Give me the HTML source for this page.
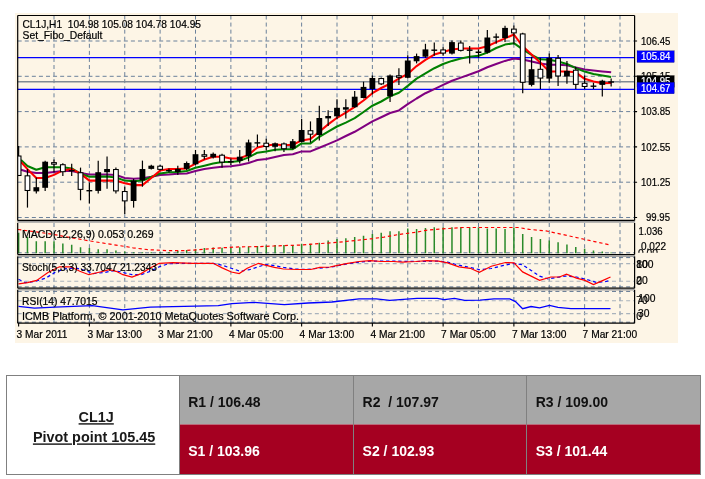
<!DOCTYPE html>
<html><head><meta charset="utf-8"><title>CL1J chart</title>
<style>html,body{margin:0;padding:0;background:#fff;}svg{display:block;will-change:transform;transform:translateZ(0)}</style></head>
<body>
<svg width="705" height="479" viewBox="0 0 705 479">
<rect x="0" y="0" width="705" height="479" fill="#ffffff"/>
<rect x="15" y="13" width="663" height="330" fill="#fdf5e6"/>
<defs><clipPath id="cm"><rect x="18" y="16" width="617" height="204"/></clipPath></defs>
<path d="M54.00 15.5 V220.4 M54.00 223 V254.6 M54.00 256.5 V288.2 M54.00 290 V323.2 M89.38 15.5 V220.4 M89.38 223 V254.6 M89.38 256.5 V288.2 M89.38 290 V323.2 M124.75 15.5 V220.4 M124.75 223 V254.6 M124.75 256.5 V288.2 M124.75 290 V323.2 M160.12 15.5 V220.4 M160.12 223 V254.6 M160.12 256.5 V288.2 M160.12 290 V323.2 M195.50 15.5 V220.4 M195.50 223 V254.6 M195.50 256.5 V288.2 M195.50 290 V323.2 M230.88 15.5 V220.4 M230.88 223 V254.6 M230.88 256.5 V288.2 M230.88 290 V323.2 M266.25 15.5 V220.4 M266.25 223 V254.6 M266.25 256.5 V288.2 M266.25 290 V323.2 M301.62 15.5 V220.4 M301.62 223 V254.6 M301.62 256.5 V288.2 M301.62 290 V323.2 M337.00 15.5 V220.4 M337.00 223 V254.6 M337.00 256.5 V288.2 M337.00 290 V323.2 M372.38 15.5 V220.4 M372.38 223 V254.6 M372.38 256.5 V288.2 M372.38 290 V323.2 M407.75 15.5 V220.4 M407.75 223 V254.6 M407.75 256.5 V288.2 M407.75 290 V323.2 M443.12 15.5 V220.4 M443.12 223 V254.6 M443.12 256.5 V288.2 M443.12 290 V323.2 M478.50 15.5 V220.4 M478.50 223 V254.6 M478.50 256.5 V288.2 M478.50 290 V323.2 M513.88 15.5 V220.4 M513.88 223 V254.6 M513.88 256.5 V288.2 M513.88 290 V323.2 M549.25 15.5 V220.4 M549.25 223 V254.6 M549.25 256.5 V288.2 M549.25 290 V323.2 M584.62 15.5 V220.4 M584.62 223 V254.6 M584.62 256.5 V288.2 M584.62 290 V323.2 M620.00 15.5 V220.4 M620.00 223 V254.6 M620.00 256.5 V288.2 M620.00 290 V323.2 M17.7 41 H634.6 M17.7 76.3 H634.6 M17.7 111.6 H634.6 M17.7 146.9 H634.6 M17.7 182.2 H634.6 M17.7 217.5 H634.6" stroke="#6b819b" stroke-width="1" stroke-dasharray="4 3.075" fill="none"/>
<path d="M17.7 263.6 H634.6 M17.7 281.3 H634.6 M17.7 300.8 H634.6 M17.7 313.6 H634.6" stroke="#a9b2bc" stroke-width="1.1" stroke-dasharray="4 3.075" fill="none"/>
<path d="M17.7 252.8 H634.6 M17.7 257.6 H634.6 M17.7 286.9 H634.6 M17.7 291.4 H634.6 M17.7 322.2 H634.6" stroke="#5f7590" stroke-width="1" stroke-dasharray="4 3.075" fill="none"/>
<path d="M17.7 57.6 H634.6 M17.7 89.4 H634.6" stroke="#0000ff" stroke-width="1.15" fill="none"/>
<path d="M17.7 81.8 H634.6" stroke="#808a94" stroke-width="1.4" fill="none"/>
<g clip-path="url(#cm)">
<polyline points="21.00,169.8 27.47,171.7 36.31,173 45.16,173 54.00,172 62.84,171 71.69,171 80.53,173 89.38,174.5 98.22,174.5 107.06,174.5 115.91,174.9 124.75,178 133.59,178.7 142.44,178.3 151.28,176.8 160.12,175 168.97,174.5 177.81,173.8 186.66,173.4 195.50,171 204.34,168.9 213.19,167.8 222.03,166.8 230.88,166.3 239.72,165.1 248.56,163 257.41,160 266.25,159 275.09,157 283.94,155 292.78,154.3 301.62,151.4 310.47,151.4 319.31,147.7 328.16,144.1 337.00,140.4 345.84,136 354.69,131.8 363.53,126.6 372.38,121.4 381.22,117.2 390.06,113 398.91,110.4 407.75,104.2 416.59,98.5 425.44,93.2 434.28,89.1 443.12,84.9 451.97,80.7 460.81,77.6 469.66,74.5 478.50,71.3 487.34,67.2 496.19,64 505.03,60.9 513.88,58.4 522.72,59.5 531.56,61.5 540.41,63.4 549.25,64.7 558.09,64.7 566.94,65.3 575.78,67.6 584.62,69.5 593.47,70.4 602.31,71.4 611.16,72.3" fill="none" stroke="#800080" stroke-width="2.05" stroke-linejoin="round"/>
<polyline points="21.00,160 27.47,166 36.31,169.8 45.16,167.2 54.00,167.2 62.84,167.2 71.69,168.5 80.53,173.6 89.38,176.8 98.22,176.6 107.06,176.6 115.91,177.5 124.75,180.6 133.59,181.3 142.44,180.6 151.28,177 160.12,173.5 168.97,172.2 177.81,172 186.66,171 195.50,167.8 204.34,165.7 213.19,163.6 222.03,162 230.88,162 239.72,160.9 248.56,157.4 257.41,152.7 266.25,151.5 275.09,149.8 283.94,149.2 292.78,149.2 301.62,143.4 310.47,143.4 319.31,136.8 328.16,131.7 337.00,126.5 345.84,122.6 354.69,118.2 363.53,112 372.38,105.7 381.22,101.5 390.06,96.3 398.91,92.7 407.75,85.9 416.59,78.6 425.44,73.4 434.28,68.2 443.12,64 451.97,60.9 460.81,58.4 469.66,56.7 478.50,55.7 487.34,52.6 496.19,48 505.03,44.6 513.88,43.2 522.72,49.4 531.56,55 540.41,59.3 549.25,59.7 558.09,61.6 566.94,63.9 575.78,68.1 584.62,71.6 593.47,73.9 602.31,75.4 611.16,76.9" fill="none" stroke="#008000" stroke-width="2.05" stroke-linejoin="round"/>
<polyline points="21.00,162 27.47,169.1 36.31,178 45.16,178 54.00,174.9 62.84,170.4 71.69,169.1 80.53,173.6 89.38,180.6 98.22,180.6 107.06,180.6 115.91,180.6 124.75,183.2 133.59,185.1 142.44,185.1 151.28,178 160.12,170.6 168.97,169 177.81,169 186.66,168.4 195.50,163.6 204.34,159.5 213.19,156.7 222.03,156.7 230.88,158.4 239.72,158.4 248.56,154.7 257.41,147.5 266.25,145.5 275.09,144.5 283.94,145.3 292.78,144.8 301.62,140.4 310.47,139 319.31,131.7 328.16,124.4 337.00,117.8 345.84,112.7 354.69,106.8 363.53,100.5 372.38,93.2 381.22,88 390.06,83.8 398.91,78.6 407.75,73.9 416.59,66.1 425.44,59.9 434.28,54.6 443.12,52.1 451.97,49.4 460.81,48.4 469.66,48.4 478.50,48.4 487.34,46.3 496.19,42.1 505.03,38.4 513.88,34.5 522.72,46.3 531.56,54.5 540.41,62.8 549.25,71.4 558.09,71.6 566.94,71.4 575.78,72.3 584.62,78.8 593.47,81.5 602.31,83.3 611.16,83.1" fill="none" stroke="#ff0000" stroke-width="2.05" stroke-linejoin="round"/>
<path d="M18.62 146.0 V176.0" stroke="#000" stroke-width="1.2"/>
<rect x="15.72" y="155.5" width="5.80" height="20.50" fill="#000"/>
<rect x="16.82" y="156.55" width="3.60" height="18.40" fill="#fff"/>
<path d="M27.47 169.0 V207.6" stroke="#000" stroke-width="1.2"/>
<rect x="24.57" y="175.3" width="5.80" height="15.70" fill="#000"/>
<rect x="25.67" y="176.35" width="3.60" height="13.60" fill="#fff"/>
<path d="M36.31 177.4 V193.4" stroke="#000" stroke-width="1.2"/>
<rect x="33.41" y="187.2" width="5.80" height="4.20" fill="#000"/>
<path d="M45.16 160.7 V191.0" stroke="#000" stroke-width="1.2"/>
<rect x="42.26" y="161.7" width="5.80" height="26.10" fill="#000"/>
<path d="M54.00 159.6 V172.2" stroke="#000" stroke-width="1.2"/>
<rect x="51.10" y="162.1" width="5.80" height="2.60" fill="#000"/>
<rect x="52.20" y="163.15" width="3.60" height="0.50" fill="#fff"/>
<path d="M62.84 163.2 V175.9" stroke="#000" stroke-width="1.2"/>
<rect x="59.94" y="164.2" width="5.80" height="8.00" fill="#000"/>
<rect x="61.04" y="165.25" width="3.60" height="5.90" fill="#fff"/>
<path d="M71.69 163.8 V175.9" stroke="#000" stroke-width="1.2"/>
<rect x="68.79" y="170.0" width="5.80" height="1.30" fill="#000"/>
<path d="M80.53 167.6 V200.3" stroke="#000" stroke-width="1.2"/>
<rect x="77.63" y="172.2" width="5.80" height="17.70" fill="#000"/>
<rect x="78.73" y="173.25" width="3.60" height="15.60" fill="#fff"/>
<path d="M89.38 182.6 V203.5" stroke="#000" stroke-width="1.2"/>
<rect x="86.47" y="190.0" width="5.80" height="1.40" fill="#000"/>
<path d="M98.22 160.7 V193.4" stroke="#000" stroke-width="1.2"/>
<rect x="95.32" y="172.2" width="5.80" height="18.70" fill="#000"/>
<path d="M107.06 156.5 V188.8" stroke="#000" stroke-width="1.2"/>
<rect x="104.16" y="169.0" width="5.80" height="3.20" fill="#000"/>
<path d="M115.91 167.6 V193.4" stroke="#000" stroke-width="1.2"/>
<rect x="113.01" y="169.0" width="5.80" height="22.40" fill="#000"/>
<rect x="114.11" y="170.05" width="3.60" height="20.30" fill="#fff"/>
<path d="M124.75 186.8 V213.9" stroke="#000" stroke-width="1.2"/>
<rect x="121.85" y="191.0" width="5.80" height="10.40" fill="#000"/>
<rect x="122.95" y="192.05" width="3.60" height="8.30" fill="#fff"/>
<path d="M133.59 178.8 V207.6" stroke="#000" stroke-width="1.2"/>
<rect x="130.69" y="180.5" width="5.80" height="20.50" fill="#000"/>
<path d="M142.44 160.6 V186.7" stroke="#000" stroke-width="1.2"/>
<rect x="139.54" y="169.0" width="5.80" height="11.40" fill="#000"/>
<path d="M151.28 164.7 V169.5" stroke="#000" stroke-width="1.2"/>
<rect x="148.38" y="165.7" width="5.80" height="3.20" fill="#000"/>
<path d="M160.12 165.0 V170.5" stroke="#000" stroke-width="1.2"/>
<rect x="157.22" y="165.7" width="5.80" height="4.20" fill="#000"/>
<rect x="158.32" y="166.75" width="3.60" height="2.10" fill="#fff"/>
<path d="M168.97 168.4 V172.6" stroke="#000" stroke-width="1.2"/>
<rect x="166.07" y="170.0" width="5.80" height="1.30" fill="#000"/>
<path d="M177.81 165.7 V175.1" stroke="#000" stroke-width="1.2"/>
<rect x="174.91" y="168.9" width="5.80" height="3.10" fill="#000"/>
<path d="M186.66 161.5 V170.0" stroke="#000" stroke-width="1.2"/>
<rect x="183.76" y="163.0" width="5.80" height="5.90" fill="#000"/>
<path d="M195.50 150.0 V165.1" stroke="#000" stroke-width="1.2"/>
<rect x="192.60" y="154.2" width="5.80" height="10.10" fill="#000"/>
<path d="M204.34 150.0 V159.5" stroke="#000" stroke-width="1.2"/>
<rect x="201.44" y="154.2" width="5.80" height="2.60" fill="#000"/>
<rect x="202.54" y="155.25" width="3.60" height="0.50" fill="#fff"/>
<path d="M213.19 152.6 V158.4" stroke="#000" stroke-width="1.2"/>
<rect x="210.29" y="153.8" width="5.80" height="3.60" fill="#000"/>
<path d="M222.03 153.8 V167.8" stroke="#000" stroke-width="1.2"/>
<rect x="219.13" y="154.7" width="5.80" height="7.90" fill="#000"/>
<rect x="220.23" y="155.75" width="3.60" height="5.80" fill="#fff"/>
<path d="M230.88 158.4 V165.1" stroke="#000" stroke-width="1.2"/>
<rect x="227.97" y="161.0" width="5.80" height="1.40" fill="#000"/>
<path d="M239.72 150.0 V163.6" stroke="#000" stroke-width="1.2"/>
<rect x="236.82" y="156.7" width="5.80" height="4.20" fill="#000"/>
<path d="M248.56 139.6 V161.5" stroke="#000" stroke-width="1.2"/>
<rect x="245.66" y="142.4" width="5.80" height="13.90" fill="#000"/>
<path d="M257.41 134.5 V147.0" stroke="#000" stroke-width="1.2"/>
<rect x="254.51" y="142.2" width="5.80" height="1.40" fill="#000"/>
<path d="M266.25 138.8 V150.2" stroke="#000" stroke-width="1.2"/>
<rect x="263.35" y="142.7" width="5.80" height="4.30" fill="#000"/>
<rect x="264.45" y="143.75" width="3.60" height="2.20" fill="#fff"/>
<path d="M275.09 142.5 V151.2" stroke="#000" stroke-width="1.2"/>
<rect x="272.19" y="143.3" width="5.80" height="3.50" fill="#000"/>
<path d="M283.94 142.6 V152.1" stroke="#000" stroke-width="1.2"/>
<rect x="281.04" y="143.4" width="5.80" height="5.80" fill="#000"/>
<rect x="282.14" y="144.45" width="3.60" height="3.70" fill="#fff"/>
<path d="M292.78 139.0 V149.2" stroke="#000" stroke-width="1.2"/>
<rect x="289.88" y="141.2" width="5.80" height="7.30" fill="#000"/>
<path d="M301.62 119.0 V142.6" stroke="#000" stroke-width="1.2"/>
<rect x="298.73" y="130.0" width="5.80" height="11.90" fill="#000"/>
<path d="M310.47 121.4 V142.6" stroke="#000" stroke-width="1.2"/>
<rect x="307.57" y="130.2" width="5.80" height="4.50" fill="#000"/>
<rect x="308.67" y="131.25" width="3.60" height="2.40" fill="#fff"/>
<path d="M319.31 105.8 V140.4" stroke="#000" stroke-width="1.2"/>
<rect x="316.41" y="118.0" width="5.80" height="17.00" fill="#000"/>
<path d="M328.16 110.2 V126.0" stroke="#000" stroke-width="1.2"/>
<rect x="325.26" y="116.0" width="5.80" height="2.40" fill="#000"/>
<path d="M337.00 99.2 V119.2" stroke="#000" stroke-width="1.2"/>
<rect x="334.10" y="107.8" width="5.80" height="8.50" fill="#000"/>
<path d="M345.84 99.2 V118.4" stroke="#000" stroke-width="1.2"/>
<rect x="342.94" y="107.2" width="5.80" height="2.40" fill="#000"/>
<path d="M354.69 91.1 V107.8" stroke="#000" stroke-width="1.2"/>
<rect x="351.79" y="96.7" width="5.80" height="10.50" fill="#000"/>
<path d="M363.53 81.7 V98.4" stroke="#000" stroke-width="1.2"/>
<rect x="360.63" y="86.9" width="5.80" height="11.10" fill="#000"/>
<path d="M372.38 75.5 V94.2" stroke="#000" stroke-width="1.2"/>
<rect x="369.48" y="78.0" width="5.80" height="11.00" fill="#000"/>
<path d="M381.22 77.5 V85.0" stroke="#000" stroke-width="1.2"/>
<rect x="378.32" y="78.0" width="5.80" height="6.40" fill="#000"/>
<rect x="379.42" y="79.05" width="3.60" height="4.30" fill="#fff"/>
<path d="M390.06 74.4 V102.0" stroke="#000" stroke-width="1.2"/>
<rect x="387.16" y="75.5" width="5.80" height="20.80" fill="#000"/>
<path d="M398.91 68.2 V84.9" stroke="#000" stroke-width="1.2"/>
<rect x="396.01" y="75.25" width="5.80" height="2.60" fill="#000"/>
<rect x="397.11" y="76.30" width="3.60" height="0.50" fill="#fff"/>
<path d="M407.75 55.2 V78.6" stroke="#000" stroke-width="1.2"/>
<rect x="404.85" y="60.5" width="5.80" height="17.30" fill="#000"/>
<path d="M416.59 53.6 V63.4" stroke="#000" stroke-width="1.2"/>
<rect x="413.69" y="56.1" width="5.80" height="5.20" fill="#000"/>
<path d="M425.44 43.8 V57.8" stroke="#000" stroke-width="1.2"/>
<rect x="422.54" y="49.4" width="5.80" height="7.30" fill="#000"/>
<path d="M434.28 42.5 V55.7" stroke="#000" stroke-width="1.2"/>
<rect x="431.38" y="49.5" width="5.80" height="1.40" fill="#000"/>
<path d="M443.12 47.3 V55.7" stroke="#000" stroke-width="1.2"/>
<rect x="440.23" y="49.4" width="5.80" height="4.20" fill="#000"/>
<rect x="441.33" y="50.45" width="3.60" height="2.10" fill="#fff"/>
<path d="M451.97 40.5 V54.6" stroke="#000" stroke-width="1.2"/>
<rect x="449.07" y="42.1" width="5.80" height="11.50" fill="#000"/>
<path d="M460.81 40.5 V51.5" stroke="#000" stroke-width="1.2"/>
<rect x="457.91" y="42.5" width="5.80" height="8.40" fill="#000"/>
<rect x="459.01" y="43.55" width="3.60" height="6.30" fill="#fff"/>
<path d="M469.66 45.9 V63.4" stroke="#000" stroke-width="1.2"/>
<rect x="466.76" y="49.5" width="5.80" height="1.40" fill="#000"/>
<path d="M478.50 49.4 V57.8" stroke="#000" stroke-width="1.2"/>
<rect x="475.60" y="51.5" width="5.80" height="1.50" fill="#000"/>
<path d="M487.34 30.0 V53.6" stroke="#000" stroke-width="1.2"/>
<rect x="484.44" y="37.5" width="5.80" height="15.10" fill="#000"/>
<path d="M496.19 33.4 V43.8" stroke="#000" stroke-width="1.2"/>
<rect x="493.29" y="36.4" width="5.80" height="1.40" fill="#000"/>
<path d="M505.03 25.8 V42.1" stroke="#000" stroke-width="1.2"/>
<rect x="502.13" y="27.9" width="5.80" height="10.10" fill="#000"/>
<path d="M513.88 25.4 V44.2" stroke="#000" stroke-width="1.2"/>
<rect x="510.98" y="28.6" width="5.80" height="4.80" fill="#000"/>
<rect x="512.08" y="29.65" width="3.60" height="2.70" fill="#fff"/>
<path d="M522.72 32.8 V93.2" stroke="#000" stroke-width="1.2"/>
<rect x="519.82" y="33.4" width="5.80" height="49.40" fill="#000"/>
<rect x="520.92" y="34.45" width="3.60" height="47.30" fill="#fff"/>
<path d="M531.56 56.7 V86.4" stroke="#000" stroke-width="1.2"/>
<rect x="528.66" y="69.2" width="5.80" height="15.70" fill="#000"/>
<path d="M540.41 57.8 V89.0" stroke="#000" stroke-width="1.2"/>
<rect x="537.51" y="68.8" width="5.80" height="9.80" fill="#000"/>
<rect x="538.61" y="69.85" width="3.60" height="7.70" fill="#fff"/>
<path d="M549.25 53.6 V82.8" stroke="#000" stroke-width="1.2"/>
<rect x="546.35" y="57.8" width="5.80" height="20.80" fill="#000"/>
<path d="M558.09 55.0 V86.0" stroke="#000" stroke-width="1.2"/>
<rect x="555.19" y="57.8" width="5.80" height="18.70" fill="#000"/>
<rect x="556.29" y="58.85" width="3.60" height="16.60" fill="#fff"/>
<path d="M566.94 60.9 V83.8" stroke="#000" stroke-width="1.2"/>
<rect x="564.04" y="70.9" width="5.80" height="5.60" fill="#000"/>
<path d="M575.78 66.7 V89.0" stroke="#000" stroke-width="1.2"/>
<rect x="572.88" y="69.7" width="5.80" height="15.20" fill="#000"/>
<rect x="573.98" y="70.75" width="3.60" height="13.10" fill="#fff"/>
<path d="M584.62 75.5 V89.0" stroke="#000" stroke-width="1.2"/>
<rect x="581.73" y="82.8" width="5.80" height="4.20" fill="#000"/>
<rect x="582.83" y="83.85" width="3.60" height="2.10" fill="#fff"/>
<path d="M593.47 82.8 V89.0" stroke="#000" stroke-width="1.2"/>
<rect x="590.57" y="85.5" width="5.80" height="1.40" fill="#000"/>
<path d="M602.31 79.7 V96.4" stroke="#000" stroke-width="1.2"/>
<rect x="599.41" y="80.7" width="5.80" height="4.20" fill="#000"/>
<path d="M611.16 78.6 V86.4" stroke="#000" stroke-width="1.2"/>
<rect x="608.26" y="81.3" width="5.80" height="1.40" fill="#000"/>
</g>
<path d="M18.62 232.8 V253.2 M27.47 237 V253.2 M36.31 241.3 V253.2 M45.16 241.3 V253.2 M54.00 241.3 V253.2 M62.84 243.5 V253.2 M71.69 244.7 V253.2 M80.53 247.2 V253.2 M89.38 248 V253.2 M98.22 249.3 V253.2 M107.06 249.3 V253.2 M115.91 250.6 V253.2 M124.75 251.5 V253.2 M133.59 252.3 V253.2 M142.44 252.3 V253.2 M151.28 252.3 V253.2 M160.12 252.3 V253.2 M168.97 252 V253.2 M177.81 251 V253.2 M186.66 250 V253.2 M195.50 249.2 V253.2 M204.34 248 V253.2 M213.19 247.6 V253.2 M222.03 247.8 V253.2 M230.88 247.8 V253.2 M239.72 247.2 V253.2 M248.56 246.5 V253.2 M257.41 246 V253.2 M266.25 245.6 V253.2 M275.09 245 V253.2 M283.94 245 V253.2 M292.78 245 V253.2 M301.62 243.8 V253.2 M310.47 243.8 V253.2 M319.31 242.7 V253.2 M328.16 240.4 V253.2 M337.00 239 V253.2 M345.84 238.2 V253.2 M354.69 237.1 V253.2 M363.53 235.8 V253.2 M372.38 234 V253.2 M381.22 232.7 V253.2 M390.06 231.2 V253.2 M398.91 231.2 V253.2 M407.75 228.5 V253.2 M416.59 229 V253.2 M425.44 227.9 V253.2 M434.28 227.2 V253.2 M443.12 227.2 V253.2 M451.97 227.2 V253.2 M460.81 227.2 V253.2 M469.66 227.2 V253.2 M478.50 227.5 V253.2 M487.34 228.5 V253.2 M496.19 228.5 V253.2 M505.03 229 V253.2 M513.88 227.5 V253.2 M522.72 234 V253.2 M531.56 237.1 V253.2 M540.41 239 V253.2 M549.25 240.4 V253.2 M558.09 242.3 V253.2 M566.94 244.5 V253.2 M575.78 246.9 V253.2 M584.62 248.7 V253.2 M593.47 250.6 V253.2 M602.31 251.5 V253.2 M611.16 252.4 V253.2" stroke="#2a8a2a" stroke-width="1.5" fill="none"/>
<polyline points="18,229.5 36.3,231.9 54,234.5 72,237.9 89,240.8 107.6,243.8 124.6,246.4 133,247.8 148.4,249.7 167,250.6 185,250.6 203.8,249.3 222,247.8 240.6,246.8 257.4,246.7 273.4,246 301,245 319.5,243.6 338,242.3 356.4,240.4 373,238.6 384,237.1 398.4,234.5 417,232.1 426,230.3 435.3,229.4 453.8,228.1 463,227.5 518.4,227.5 529.5,229.4 546,230.9 564.5,234.9 583,239 596,241.9 610.6,245" fill="none" stroke="#ff0000" stroke-width="1.2" stroke-dasharray="3.3 2.8"/>
<polyline points="18.5,279.2 25.3,282.6 34.4,281.5 45.8,278.1 54.9,272.4 63.9,269 75.3,267.9 84.4,270.2 93.4,273.6 104.8,272.4 113.9,270.6 122.9,272.4 132,274.7 141.1,274.7 150.2,271.3 159.3,266.8 168.3,263.8 179,263.3 213.1,263.3 222.2,265.2 231.3,268.3 240.4,271.3 249.4,269.7 258.5,266.8 265.3,264.5 274.4,265.6 283.5,267.4 294.8,269 306.2,269.5 317.5,268.3 330,267.4 336.3,266 347.7,263.8 359,262.2 370.4,261.1 393.1,261.1 415.8,261.5 438.5,261.1 447.6,262.2 458.9,265.2 470.3,267.4 479.3,269.7 491.3,268.5 502.7,265.6 514,263.3 522.6,264.8 531.1,270.4 539.6,276.1 548.1,279 556.6,277.5 565.1,276.1 576.5,277 587.8,279.8 596.3,282.4 604.8,281.8 610.5,280.4" fill="none" stroke="#0000ff" stroke-width="1.2" stroke-dasharray="3.3 2.8"/>
<polyline points="18.5,283.8 27.6,282.6 36.7,280.4 48,272.4 59.4,266.8 70.7,266.8 79.8,271.3 88.9,274.7 100.2,272 109.3,269.7 116.1,271.3 122.9,274.7 132,277 141.1,273.6 150.2,267.9 159.3,263.3 172.9,262.7 192.7,263.3 213.1,263.3 222.2,267.9 231.3,272 239.2,273.6 247.2,268.3 258.5,263.3 265.3,265.2 274.4,267.4 283.5,269 297.1,269.5 310.7,269.5 319.8,267.4 330,267 336.3,265.6 347.7,263.3 359,261.5 370.4,260.6 381.7,261.5 393.1,261.5 402.2,262.2 415.8,261.5 427.1,260.6 438.5,261.1 447.6,262.9 458.9,266.8 470.3,268.3 479.3,272.4 491.3,266.2 505.5,262.5 514,262.8 522.6,271.9 539.6,280.4 550.9,277 559.4,277 566.5,274.1 576.5,278.1 585,280.4 593.5,284.6 602,280.9 610.5,277" fill="none" stroke="#ff0000" stroke-width="1.2"/>
<polyline points="18.5,306.4 34.4,308.1 54.9,307.1 92.3,305.7 122.9,309.8 150.2,307.1 184.2,306.4 218.3,305.7 231.9,303.7 253.6,302.3 284.3,304.7 308.1,303 331.9,302 359.1,298.9 376.2,298.9 389.8,300.3 417,298.3 437.4,298.3 444.3,299.6 454.5,298.3 464.7,300.3 480,300.2 494,298.8 509.8,298.8 515.5,301.6 522.6,308.7 531,306.5 539.6,307.9 549.5,305.3 558,307.3 570.8,308.7 610.5,308.7" fill="none" stroke="#0000ff" stroke-width="1.3"/>
<path d="M17.7 15.5 H634.6" stroke="#000" stroke-width="1.2" fill="none"/>
<path d="M17.7 220.4 H634.6" stroke="#000" stroke-width="1.3" fill="none"/>
<path d="M17.7 15.5 V220.4 M634.6 15.5 V220.4" stroke="#000" stroke-width="1.2" fill="none"/>
<path d="M17.2 221.9 H635.1" stroke="#a0a0a0" stroke-width="1.6" fill="none"/>
<path d="M17.7 254.6 H634.6" stroke="#000" stroke-width="1.3" fill="none"/>
<path d="M17.7 223 V254.6 M634.6 223 V254.6" stroke="#000" stroke-width="1.2" fill="none"/>
<path d="M17.2 256.1 H635.1" stroke="#a0a0a0" stroke-width="1.6" fill="none"/>
<path d="M17.7 288.2 H634.6" stroke="#000" stroke-width="1.3" fill="none"/>
<path d="M17.7 256.5 V288.2 M634.6 256.5 V288.2" stroke="#000" stroke-width="1.2" fill="none"/>
<path d="M17.2 289.7 H635.1" stroke="#a0a0a0" stroke-width="1.6" fill="none"/>
<path d="M17.7 323.2 H634.6" stroke="#000" stroke-width="1.3" fill="none"/>
<path d="M17.7 290 V323.2 M634.6 290 V323.2" stroke="#000" stroke-width="1.2" fill="none"/>
<path d="M634.6 41 h2.5 M634.6 76.3 h2.5 M634.6 111.6 h2.5 M634.6 146.9 h2.5 M634.6 182.2 h2.5 M634.6 217.5 h2.5 M18.62 323 v3.5 M89.38 323 v3.5 M160.12 323 v3.5 M230.88 323 v3.5 M301.62 323 v3.5 M372.38 323 v3.5 M443.12 323 v3.5 M513.88 323 v3.5 M584.62 323 v3.5" stroke="#000" stroke-width="1.1" fill="none"/>
<g font-family="'Liberation Sans', Arial, sans-serif" font-size="10.3" fill="#000" stroke="#000" stroke-width="0.2">
<text x="22.5" y="27.8" textLength="178.5" lengthAdjust="spacingAndGlyphs" xml:space="preserve">CL1J,H1  104.98 105.08 104.78 104.95</text>
<text x="22.5" y="38.8" textLength="80" lengthAdjust="spacingAndGlyphs">Set_Fibo_Default</text>
<text x="22" y="237.8" textLength="131.5" lengthAdjust="spacingAndGlyphs">MACD(12,26,9) 0.053 0.269</text>
<text x="22" y="271.1" textLength="135" lengthAdjust="spacingAndGlyphs">Stoch(5,3,3) 33.7047 21.2343</text>
<text x="22" y="305" textLength="75.5" lengthAdjust="spacingAndGlyphs">RSI(14) 47.7015</text>
<text x="22" y="320" textLength="277" lengthAdjust="spacingAndGlyphs">ICMB Platform, © 2001-2010 MetaQuotes Software Corp.</text>
<text x="641" y="44.7" textLength="29.4" lengthAdjust="spacingAndGlyphs">106.45</text>
<text x="641" y="80.0" textLength="29.4" lengthAdjust="spacingAndGlyphs">105.15</text>
<text x="641" y="115.3" textLength="29.4" lengthAdjust="spacingAndGlyphs">103.85</text>
<text x="641" y="150.6" textLength="29.4" lengthAdjust="spacingAndGlyphs">102.55</text>
<text x="641" y="185.89999999999998" textLength="29.4" lengthAdjust="spacingAndGlyphs">101.25</text>
<text x="646" y="221.2" textLength="24" lengthAdjust="spacingAndGlyphs">99.95</text>
<text x="638.6" y="234.6" textLength="24" lengthAdjust="spacingAndGlyphs">1.036</text>
<clipPath id="cz"><rect x="630" y="240" width="50" height="12.8"/></clipPath>
<text x="638" y="257.2" clip-path="url(#cz)">0.00</text>
<text x="641" y="250" textLength="25" lengthAdjust="spacingAndGlyphs">0.022</text>
<text x="636.2" y="267.5" >100</text>
<text x="636.2" y="267.5" >80</text>
<text x="636.2" y="284.3" >20</text>
<text x="636.2" y="285.3" >0</text>
<text x="638.3" y="301.5" >100</text>
<text x="636.2" y="304" >70</text>
<text x="638" y="317" >30</text>
<text x="636.2" y="320" >0</text>
<text x="16.62" y="338.2" textLength="50.8" lengthAdjust="spacingAndGlyphs">3 Mar 2011</text>
<text x="87.38" y="338.2" textLength="54.5" lengthAdjust="spacingAndGlyphs">3 Mar 13:00</text>
<text x="158.12" y="338.2" textLength="54.5" lengthAdjust="spacingAndGlyphs">3 Mar 21:00</text>
<text x="228.88" y="338.2" textLength="54.5" lengthAdjust="spacingAndGlyphs">4 Mar 05:00</text>
<text x="299.62" y="338.2" textLength="54.5" lengthAdjust="spacingAndGlyphs">4 Mar 13:00</text>
<text x="370.38" y="338.2" textLength="54.5" lengthAdjust="spacingAndGlyphs">4 Mar 21:00</text>
<text x="441.12" y="338.2" textLength="54.5" lengthAdjust="spacingAndGlyphs">7 Mar 05:00</text>
<text x="511.88" y="338.2" textLength="54.5" lengthAdjust="spacingAndGlyphs">7 Mar 13:00</text>
<text x="582.62" y="338.2" textLength="54.5" lengthAdjust="spacingAndGlyphs">7 Mar 21:00</text>
<rect x="637" y="50.7" width="37.3" height="11.8" fill="#0000ff"/>
<text x="641" y="60.3" fill="#fff" stroke="#fff" textLength="29.4" lengthAdjust="spacingAndGlyphs">105.84</text>
<rect x="637" y="75.5" width="37.3" height="12" fill="#000"/>
<text x="641" y="85.2" fill="#fff" stroke="#fff" textLength="29.4" lengthAdjust="spacingAndGlyphs">104.95</text>
<rect x="637" y="82.2" width="37.3" height="11.6" fill="#0000ff"/>
<text x="641" y="92.2" fill="#fff" stroke="#fff" textLength="29.4" lengthAdjust="spacingAndGlyphs">104.67</text>
</g>
<rect x="6.5" y="375.5" width="694" height="99" fill="#fff" stroke="#7f7f7f" stroke-width="1"/>
<rect x="179.5" y="375.5" width="521" height="49" fill="#a7a7a7"/>
<rect x="179.5" y="424.5" width="521" height="50" fill="#a50021"/>
<path d="M179.5 375.5 V474.5 M353.5 375.5 V474.5 M526.5 375.5 V474.5 M6.5 375.5 H700.5 V474.5 H6.5 Z" stroke="#808080" stroke-width="1" fill="none"/>
<g font-family="'Liberation Sans', Arial, sans-serif" font-weight="bold">
<text x="96.2" y="422.2" font-size="14.4" text-anchor="middle" text-decoration="underline" fill="#1a1a1a">CL1J</text>
<text x="94.1" y="442.4" font-size="14.4" text-anchor="middle" text-decoration="underline" fill="#1a1a1a">Pivot point 105.45</text>
<text x="188.2" y="406.8" font-size="14" fill="#111">R1 / 106.48</text>
<text x="188.2" y="455.8" font-size="14" fill="#fff">S1 / 103.96</text>
<text x="362.6" y="406.8" font-size="14" fill="#111">R2  / 107.97</text>
<text x="362.6" y="455.8" font-size="14" fill="#fff">S2 / 102.93</text>
<text x="535.7" y="406.8" font-size="14" fill="#111">R3 / 109.00</text>
<text x="535.7" y="455.8" font-size="14" fill="#fff">S3 / 101.44</text>
</g>
</svg>
</body></html>
